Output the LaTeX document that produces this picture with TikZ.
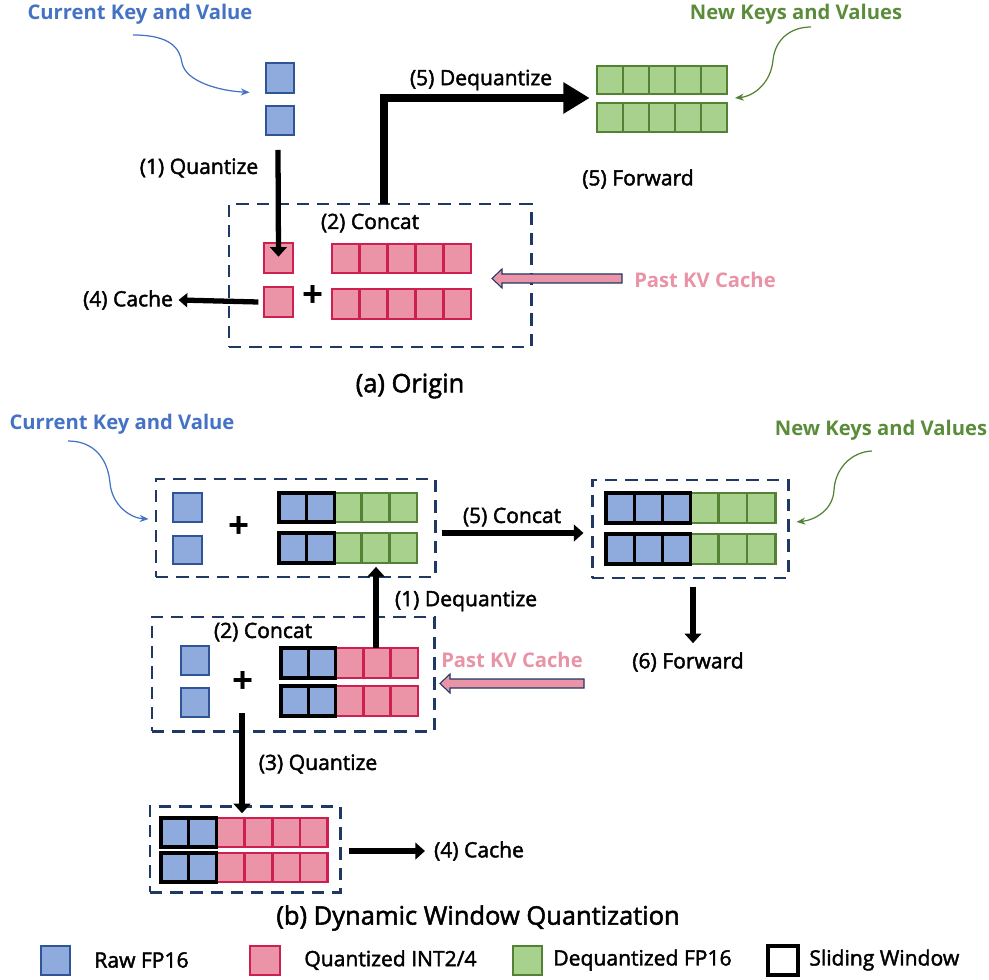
\documentclass[tikz,border=0pt]{standalone}
\usepackage{fontspec}
\setmainfont{Open Sans}
\newfontfamily\medfont{Open Sans}[FakeBold=2]
\usetikzlibrary{arrows.meta,fit}
\definecolor{bfill}{HTML}{8FAADC}
\definecolor{bline}{HTML}{2F5597}
\definecolor{rfill}{HTML}{EB94A8}
\definecolor{rline}{HTML}{CC2150}
\definecolor{gfill}{HTML}{A9D18E}
\definecolor{gline}{HTML}{548235}
\definecolor{navy}{HTML}{1F3864}
\definecolor{tblue}{HTML}{4472C4}
\definecolor{tgreen}{HTML}{5B8C3A}
\definecolor{tpink}{HTML}{E993A6}
\tikzset{
  bluecell/.style={fill=bfill,draw=bline,line width=1.6pt},
  redcell/.style={fill=rfill,draw=rline,line width=1.6pt},
  greencell/.style={fill=gfill,draw=gline,line width=1.6pt},
  window/.style={draw=black,line width=1.9pt},
  dbox/.style={draw=navy,line width=1.7pt,dash pattern=on 7pt off 4.5pt,inner sep=0pt},
  grp/.style={inner sep=0pt},
  lbl/.style={font=\medfont\fontsize{12}{14}\selectfont,inner sep=0pt},
  ttl/.style={font=\medfont\fontsize{14.5}{16}\selectfont,inner sep=0pt},
  clbl/.style={font=\bfseries\fontsize{11.5}{13}\selectfont,inner sep=0pt},
  plus/.style={font=\fontsize{21}{21}\selectfont\bfseries,inner sep=0pt},
  flow/.style={line width=3pt,-{Triangle[length=5.5pt,width=9.5pt]}},
  thin/.style={line width=0.7pt,-{Stealth[length=5pt,width=4pt]}},
  pinkarrow/.style={fill=rfill,draw=navy,line width=0.6pt},
}
\newcommand{\kvrow}[7]{%
  \foreach \i in {1,...,#6} \draw[#7] ({#1+(#5+\i-1)*#3},#2) rectangle ++(#3,#4);
  \ifnum#5>0 \foreach \i in {1,...,#5} \draw[bluecell,window] ({#1+(\i-1)*#3},#2) rectangle ++(#3,#4);\fi
}
\begin{document}
\begin{tikzpicture}[x=0.02cm,y=-0.02cm]
\useasboundingbox (0,0) rectangle (989,979);
%% ---------------- (a) Origin ----------------
\node[clbl,text=tblue] (ackv) at (140,14) {Current Key and Value};
\node[clbl,text=tgreen] (anew) at (796,14) {New Keys and Values};
% raw squares
\draw[bluecell] (266,63) rectangle (294,93);
\node[grp,fit={(266,63) (294,93)}] (ab1) {};
\draw[bluecell] (266,106) rectangle (294,135);
\node[grp,fit={(266,106) (294,135)}] (ab2) {};
\coordinate (acs) at (133,35);
\draw[thin,tblue] (acs) .. controls (170,35) and (180,48) .. (182,63) .. controls (186,82) and (220,91) .. ([xshift=-0.32cm,yshift=0.02cm]ab1.south west);
% dashed box
\node[dbox,fit={(229,204) (531,347)}] (boxA) {};
\node[lbl] (aconcat) at (370,223) {(2) Concat};
\draw[redcell] (264,243) rectangle (293,273);
\node[grp,fit={(264,243) (293,273)}] (ar1) {};
\draw[redcell] (264,287) rectangle (293,317);
\node[grp,fit={(264,287) (293,317)}] (ar2) {};
\node[plus] (aplus) at (313,297) {+};
\kvrow{332}{244}{27.8}{29}{0}{5}{redcell}
\kvrow{332}{289}{27.8}{30}{0}{5}{redcell}
\node[grp,fit={(332,244) (471,319)}] (arows) {};
% quantize
\node[lbl] (aquant) at (199,168) {(1) Quantize};
\coordinate (aqs) at (278,150);
\draw[flow] (aqs) -- ([yshift=-8pt]ar1.north);
% cache
\node[lbl] (acache) at (128,300) {(4) Cache};
\draw[line width=3pt,-{Triangle[length=5pt,width=8pt]}] ([xshift=-3pt]ar2.west) -- ([xshift=3pt]acache.east);
% green rows
\kvrow{597}{66}{26}{28}{0}{5}{greencell}
\kvrow{597}{103}{26}{29}{0}{5}{greencell}
\node[grp,fit={(597,66) (727,132)}] (agreen) {};
% dequantize
\node[lbl] (adeq) at (481,80) {(5) Dequantize};
\coordinate (ads) at (384,204);
\coordinate (adc) at (384,98);
\draw[line width=4pt,-{Triangle[length=15pt,width=17pt]}] (ads) -- (adc) -- ([xshift=-4pt]agreen.west |- adc);
\coordinate (ags) at (811,27);
\draw[thin,gline] (ags) .. controls (790,27) and (775,40) .. (773,60) .. controls (771,82) and (755,96) .. (735,98);
\node[lbl] (afwd) at (638,179) {(5) Forward};
% past kv cache
\node[clbl,text=tpink] (apast) at (705,280) {Past KV Cache};
\draw[pinkarrow] (622,274) -- (502,274) -- (502,269) -- (492,278.5) -- (502,288) -- (502,283) -- (622,283) -- cycle;
\node[ttl] (atitle) at (410,386) {(a) Origin};
%% ---------------- (b) Dynamic Window ----------------
\node[clbl,text=tblue] (bckv) at (122,424) {Current Key and Value};
\node[clbl,text=tgreen] (bnew) at (881,430) {New Keys and Values};
% box 1
\node[dbox,fit={(156,479) (435,577)}] (box1) {};
\draw[bluecell] (173,493) rectangle (202,522);
\node[grp,fit={(173,493) (202,522)}] (b1s1) {};
\draw[bluecell] (173,536) rectangle (202,564);
\node[plus] (bplus1) at (239,527) {+};
\kvrow{279}{493}{27.6}{29}{2}{3}{greencell}
\kvrow{279}{533}{27.6}{30}{2}{3}{greencell}
\node[grp,fit={(279,493) (417,563)}] (b1rows) {};
\coordinate (bcs) at (68,441);
\draw[thin,tblue] (bcs) .. controls (95,441) and (108,460) .. (110,483) .. controls (112,505) and (130,518) .. ([xshift=-0.12cm]box1.west |- 0,519);
% box 2
\node[dbox,fit={(592,480) (788,578)}] (box2) {};
\kvrow{606}{493}{28.2}{30}{3}{3}{greencell}
\kvrow{606}{534}{28.2}{30}{3}{3}{greencell}
\coordinate (bgs) at (872,451);
\draw[thin,gline] (bgs) .. controls (850,452) and (835,470) .. (834,490) .. controls (833,510) and (815,520) .. ([xshift=0.14cm]box2.east |- 0,522);
% concat 5
\node[lbl] (bconcat5) at (512,517) {(5) Concat};
\draw[flow] ([xshift=3pt]box1.east |- 0,533) -- ([xshift=-4pt]box2.west |- 0,533);
% forward
\node[lbl] (bfwd) at (688,662) {(6) Forward};
\draw[flow] ([yshift=-4pt]box2.south -| 693,0) -- ([yshift=5pt]bfwd.north -| 693,0);
% box 3
\node[dbox,fit={(152,617) (434,731)}] (box3) {};
\node[lbl] (bconcat2) at (263,632) {(2) Concat};
\draw[bluecell] (181,646) rectangle (209,675);
\draw[bluecell] (181,688) rectangle (209,717);
\node[plus] (bplus2) at (243,682) {+};
\kvrow{281}{648}{27.4}{30}{2}{3}{redcell}
\kvrow{281}{686}{27.4}{30}{2}{3}{redcell}
\node[grp,fit={(281,648) (418,716)}] (b3rows) {};
% dequantize 1
\node[lbl] (bdeq) at (466,601) {(1) Dequantize};
\draw[flow] (b3rows.north -| 376,0) -- ([yshift=-2pt]b1rows.south -| 376,0);
% past kv
\node[clbl,text=tpink] (bpast) at (512,660) {Past KV Cache};
\draw[pinkarrow] (584,679) -- (450,679) -- (450,674) -- (440,683.5) -- (450,693) -- (450,688) -- (584,688) -- cycle;
% box 4
\node[dbox,fit={(150,806) (340,892)}] (box4) {};
\kvrow{161}{818}{27.8}{29}{2}{4}{redcell}
\kvrow{161}{853}{27.8}{29}{2}{4}{redcell}
\node[lbl] (bquant) at (318,764) {(3) Quantize};
\coordinate (bqs) at (242,713);
\draw[flow] (bqs) -- ([yshift=-5pt]box4.north -| bqs);
\node[lbl] (bcache) at (479,851) {(4) Cache};
\draw[flow] ([xshift=4pt]box4.east |- 0,851) -- ([xshift=-5pt]bcache.west);
\node[ttl] (btitle) at (478,918) {(b) Dynamic Window Quantization};
%% legend
\draw[bluecell] (41,946) rectangle (70,975);
\node[lbl,anchor=west] (l1) at (94,960) {Raw FP16};
\draw[redcell] (250,946) rectangle (280,975);
\node[lbl,anchor=west] (l2) at (304,960) {Quantized INT2/4};
\draw[greencell] (513,946) rectangle (542,975);
\node[lbl,anchor=west] (l3) at (553,960) {Dequantized FP16};
\draw[window,fill=white] (768,946) rectangle (798,975);
\node[lbl,anchor=west] (l4) at (809,960) {Sliding Window};
\end{tikzpicture}
\end{document}
